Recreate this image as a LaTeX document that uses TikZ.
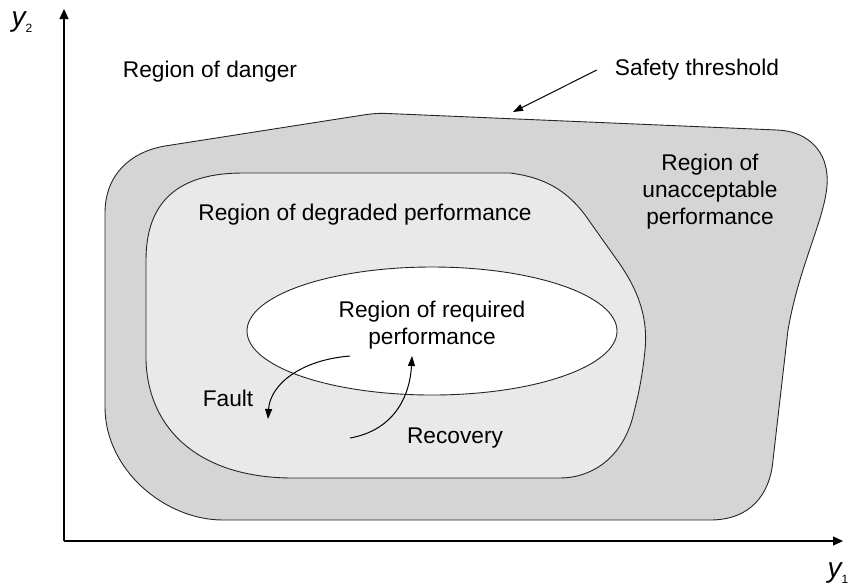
\documentclass[tikz,border=0pt]{standalone}
\usepackage{fontspec}
\setmainfont{Liberation Sans}
\usetikzlibrary{arrows.meta}
\definecolor{unaccgray}{HTML}{D5D5D5}
\definecolor{degrgray}{HTML}{E9E9E9}

\begin{document}
\begin{tikzpicture}[
    x=1pt, y=-1pt,
    >=Triangle,
    font=\fontsize{22.7}{27}\selectfont,
    region/.style={draw=black!85, line width=0.9pt},
    txt/.style={align=center, inner sep=0pt},
    axis/.style={line width=1.2pt, -{Triangle[length=10pt, width=9pt]}},
    ptr/.style={line width=1pt, -{Triangle[length=10pt, width=7pt]}},
    axlab/.style={inner sep=0pt, font=\fontsize{28}{28}\selectfont\itshape}
]
\useasboundingbox (0,0) rectangle (850,587);

% regions
\draw[region, fill=unaccgray] (105,213) -- (105,407)
    .. controls (105,470) and (165,520) .. (223,520) -- (710,520)
    .. controls (750,520) and (770,495) .. (773,460) -- (788,330)
    .. controls (800,260) and (830,210) .. (827,175)
    .. controls (825,148) and (805,131) .. (777,130) -- (390,113.6)
    .. controls (378,113) and (372,113.6) .. (360,115.5) -- (165,146)
    .. controls (130,152) and (105,175) .. (105,213) -- cycle;
\draw[region, fill=degrgray] (146,260) -- (146,360)
    .. controls (148,430) and (200,478) .. (293,478) -- (560,478)
    .. controls (590,478) and (620,460) .. (632,420)
    .. controls (640,390) and (643,370) .. (645,350)
    .. controls (648,320) and (640,292) .. (617,260) -- (590,222)
    .. controls (572,195) and (550,178) .. (510,173) -- (243,173)
    .. controls (180,173) and (146,200) .. (146,260) -- cycle;
\draw[region, fill=white] (432,331) ellipse [x radius=185, y radius=64];

% axes
\coordinate (origin) at (64,541);
\coordinate (ytip) at (64,9);
\coordinate (xtip) at (843,541);
\draw[axis] (origin) -- (ytip);
\draw[axis] (origin) -- (xtip);
\node[axlab] (ylab) at (22,22) {y\raisebox{-6pt}{\fontsize{12}{12}\selectfont\upshape 2}};
\node[axlab] (xlab) at (838,573) {y\raisebox{-6pt}{\fontsize{12}{12}\selectfont\upshape 1}};

% labels
\node[txt] (danger) at (210,72) {Region of danger};
\node[txt, inner xsep=18pt] (safety) at (697,70) {Safety threshold};
\node[txt] (unacc) at (710,192) {Region of\\unacceptable\\performance};
\node[txt] (degr) at (365,215) {Region of degraded performance};
\node[txt] (req) at (432,325) {Region of required\\performance};
\node[txt] (fault) at (228,398) {Fault};
\node[txt] (recov) at (455,438) {Recovery};

% arrows
\coordinate (thr) at (513,112);
\coordinate (faultstart) at (350,356);
\coordinate (faultend) at (268,419);
\coordinate (recstart) at (350,438);
\coordinate (recend) at (412,356);
\draw[ptr] (safety.west) -- (thr);
\draw[ptr] (faultstart) .. controls (300,360) and (270,385) .. (faultend);
\draw[ptr] (recstart) .. controls (395,430) and (410,395) .. (recend);

\end{tikzpicture}
\end{document}
